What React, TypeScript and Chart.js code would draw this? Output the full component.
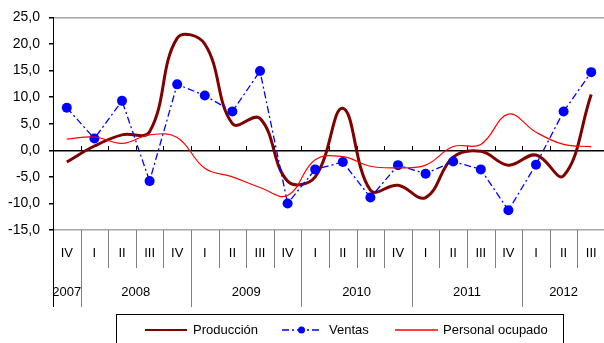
import { useEffect, useRef } from "react";
import { Chart, registerables } from "chart.js";

Chart.register(...registerables);

const quarters = ["IV", "I", "II", "III", "IV", "I", "II", "III", "IV", "I", "II", "III", "IV", "I", "II", "III", "IV", "I", "II", "III"];
const years = ["2007", "2008", "2008", "2008", "2008", "2009", "2009", "2009", "2009", "2010", "2010", "2010", "2010", "2011", "2011", "2011", "2011", "2012", "2012", "2012"];

const produccion = [-2.2, 0.8, 2.9, 3.5, 21.1, 20.0, 5.0, 6.0, -5.8, -5.0, 7.9, -7.5, -6.6, -8.9, -1.3, -0.2, -2.8, -0.9, -4.8, 10.5];
const ventas = [8.0, 2.2, 9.3, -5.8, 12.4, 10.3, 7.3, 14.9, -10.0, -3.6, -2.2, -8.9, -2.8, -4.4, -2.1, -3.6, -11.3, -2.7, 7.3, 14.7];
const personal = [2.1, 2.5, 1.3, 2.9, 2.4, -3.4, -5.0, -7.0, -8.5, -1.8, -1.2, -3.0, -3.3, -2.8, 0.7, 1.1, 6.8, 3.4, 1.1, 0.7];

const yMin = -15;
const yMax = 25;
const yStep = 5;

const seriesNames = ["Producción", "Ventas", "Personal ocupado"];
const colors = ["#800000", "#0000ff", "#ff0000"];

const FONT = "'Liberation Sans', Arial, sans-serif";

const overlay = {
  id: "overlay",
  beforeDatasetsDraw(chart: any) {
    const { ctx, scales } = chart;
    const x = scales.x;
    const y = scales.y;
    const y0 = Math.round(y.getPixelForValue(0));
    ctx.save();
    ctx.strokeStyle = "#000";
    ctx.lineWidth = 1;
    for (let k = 1; k < quarters.length; k++) {
      const bx = Math.round(x.getPixelForValue(k - 0.5)) + 0.5;
      ctx.beginPath();
      ctx.moveTo(bx, y0 - 4);
      ctx.lineTo(bx, y0);
      ctx.stroke();
    }
    ctx.restore();
  },
  afterDraw(chart: any) {
    const { ctx, scales, chartArea } = chart;
    const x = scales.x;
    const bottom = chartArea.bottom;
    const n = quarters.length;
    ctx.save();
    ctx.strokeStyle = "#000";
    ctx.lineWidth = 1;
    const lx = Math.round(chartArea.left) + 0.5;
    ctx.beginPath();
    ctx.moveTo(lx, bottom);
    ctx.lineTo(lx, bottom + 77);
    ctx.stroke();
    ctx.strokeStyle = "#808080";
    for (let k = 1; k <= n; k++) {
      const bx = Math.round(x.getPixelForValue(k - 0.5)) + 0.5;
      const isYear = k === n || years[k] !== years[k - 1];
      ctx.beginPath();
      ctx.moveTo(bx, bottom);
      ctx.lineTo(bx, bottom + (isYear ? 77 : 38));
      ctx.stroke();
    }
    ctx.fillStyle = "#000";
    ctx.font = `13px ${FONT}`;
    ctx.textAlign = "center";
    ctx.textBaseline = "middle";
    for (let i = 0; i < n; i++) {
      ctx.fillText(quarters[i], x.getPixelForValue(i), bottom + 23);
    }
    let start = 0;
    for (let i = 1; i <= n; i++) {
      if (i === n || years[i] !== years[start]) {
        const cx = (x.getPixelForValue(start - 0.5) + x.getPixelForValue(i - 0.5)) / 2;
        ctx.fillText(years[start], cx, bottom + 62);
        start = i;
      }
    }
    ctx.strokeStyle = "#000";
    ctx.lineWidth = 1;
    ctx.strokeRect(116.5, 314.5, 447, 40);
    const ly = 330;
    ctx.textAlign = "left";
    ctx.strokeStyle = colors[0];
    ctx.lineWidth = 2;
    ctx.beginPath();
    ctx.moveTo(145, ly);
    ctx.lineTo(187, ly);
    ctx.stroke();
    ctx.fillStyle = "#000";
    ctx.fillText(seriesNames[0], 193, ly);
    ctx.strokeStyle = colors[1];
    ctx.lineWidth = 1.3;
    ctx.setLineDash([7, 3, 2, 3]);
    ctx.beginPath();
    ctx.moveTo(282, ly);
    ctx.lineTo(321, ly);
    ctx.stroke();
    ctx.setLineDash([]);
    ctx.fillStyle = colors[1];
    ctx.beginPath();
    ctx.arc(301.5, ly, 3.5, 0, Math.PI * 2);
    ctx.fill();
    ctx.fillStyle = "#000";
    ctx.fillText(seriesNames[1], 329, ly);
    ctx.strokeStyle = colors[2];
    ctx.lineWidth = 1.5;
    ctx.beginPath();
    ctx.moveTo(395, ly);
    ctx.lineTo(438, ly);
    ctx.stroke();
    ctx.fillStyle = "#000";
    ctx.fillText(seriesNames[2], 443, ly);
    ctx.restore();
  },
};

export default function App() {
  const ref = useRef<HTMLCanvasElement>(null);
  useEffect(() => {
    const canvas = ref.current;
    if (!canvas) return;
    const chart = new Chart(canvas, {
      type: "line",
      data: {
        labels: quarters.map((q, i) => `${q} ${years[i]}`),
        datasets: [
          {
            label: seriesNames[0],
            data: produccion,
            borderColor: colors[0],
            backgroundColor: colors[0],
            borderWidth: 3,
            pointRadius: 0,
            tension: 0.4,
            fill: false,
            order: 2,
          },
          {
            label: seriesNames[1],
            data: ventas,
            borderColor: colors[1],
            backgroundColor: colors[1],
            borderWidth: 1.3,
            borderDash: [7, 3, 2, 3],
            pointRadius: 5,
            pointBackgroundColor: colors[1],
            pointBorderColor: colors[1],
            pointBorderWidth: 0,
            tension: 0,
            fill: false,
            order: 1,
          },
          {
            label: seriesNames[2],
            data: personal,
            borderColor: colors[2],
            backgroundColor: colors[2],
            borderWidth: 1.2,
            pointRadius: 0,
            tension: 0.4,
            fill: false,
            order: 0,
          },
        ],
      },
      options: {
        responsive: false,
        animation: false,
        devicePixelRatio: 1,
        events: [],
        layout: { padding: { top: 17, right: 2, bottom: 113, left: 0 } },
        plugins: { legend: { display: false }, tooltip: { enabled: false } },
        scales: {
          x: { type: "category", display: false, offset: true },
          y: {
            min: yMin,
            max: yMax,
            afterFit(scale: any) {
              scale.width = 53;
            },
            ticks: {
              stepSize: yStep,
              color: "#000",
              padding: 9,
              font: { family: FONT, size: 14 },
              callback: (v: any) => Number(v).toFixed(1).replace(".", ","),
            },
            grid: {
              tickLength: 4,
              tickColor: "#000",
              color: (c: any) => {
                const v = c.tick ? c.tick.value : null;
                if (v === yMax || v === yMin) return "#a6a6a6";
                if (v === 0) return "#000";
                return "rgba(0,0,0,0)";
              },
              lineWidth: 1.5,
            },
            border: { display: true, color: "#000", width: 1 },
          },
        },
      },
      plugins: [overlay],
    });
    return () => chart.destroy();
  }, []);
  return (
    <div style={{ position: "fixed", left: 0, top: 0, width: 604, height: 343, overflow: "hidden", background: "#fff" }}>
      <canvas ref={ref} width={610} height={343} style={{ display: "block", width: 610, height: 343 }} />
    </div>
  );
}
